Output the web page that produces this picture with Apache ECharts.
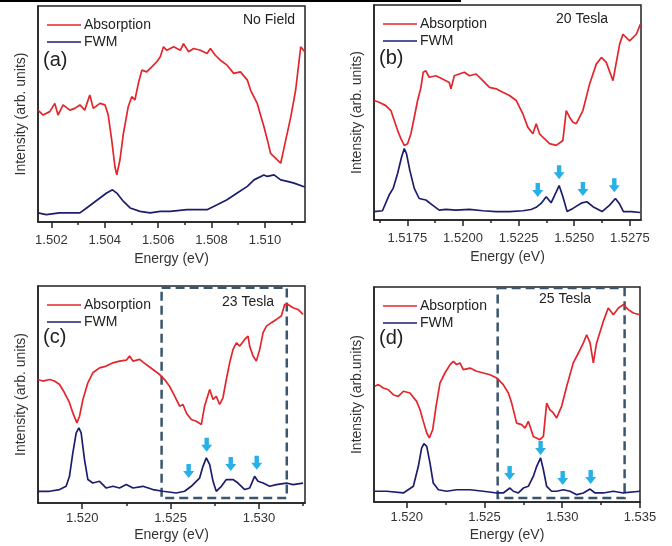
<!DOCTYPE html>
<html>
<head>
<meta charset="utf-8">
<script src="https://cdn.jsdelivr.net/npm/echarts@6/dist/echarts.min.js"></script>
<style>
  html, body { margin: 0; padding: 0; background: #fff; }
  #main { width: 672px; height: 546px; }
</style>
</head>
<body>
<div id="main"></div>
<script>
// ---- data: [energy (eV), intensity (arb. units)] ----
// (a) no field
var absA = [[1.50150,51.8],[1.50169,49.5],[1.50194,51.1],[1.50213,54.9],[1.50225,49.5],[1.50244,54.2],[1.50269,51.8],[1.50288,52.6],[1.50307,54.2],[1.50325,51.8],[1.50344,58.8],[1.50357,52.6],[1.50382,54.9],[1.50401,54.2],[1.50413,49.5],[1.50426,38.0],[1.50438,25.7],[1.50445,21.8],[1.50457,28.8],[1.50470,41.1],[1.50488,53.4],[1.50501,58.0],[1.50513,56.5],[1.50526,64.2],[1.50539,70.3],[1.50557,69.5],[1.50576,71.8],[1.50595,74.2],[1.50608,76.5],[1.50620,81.1],[1.50633,79.5],[1.50658,81.1],[1.50683,79.5],[1.50695,82.6],[1.50714,78.8],[1.50733,80.3],[1.50758,79.5],[1.50783,78.0],[1.50796,80.3],[1.50814,77.2],[1.50833,74.9],[1.50858,72.6],[1.50883,68.8],[1.50908,69.5],[1.50934,65.7],[1.50946,61.1],[1.50971,54.9],[1.50996,44.2],[1.51009,38.0],[1.51021,31.8],[1.51046,28.8],[1.51059,27.2],[1.51078,38.0],[1.51097,48.8],[1.51115,61.1],[1.51134,81.1],[1.51149,78.8]];
var fwmA = [[1.50150,4.2],[1.50181,3.4],[1.50231,4.2],[1.50307,4.2],[1.50332,6.5],[1.50357,8.8],[1.50382,11.1],[1.50407,13.4],[1.50429,14.9],[1.50445,13.4],[1.50470,9.5],[1.50495,6.5],[1.50532,4.9],[1.50570,4.2],[1.50608,4.9],[1.50645,4.9],[1.50708,5.7],[1.50783,5.7],[1.50821,8.0],[1.50858,10.3],[1.50896,13.4],[1.50934,16.5],[1.50959,19.5],[1.50996,21.8],[1.51009,21.1],[1.51034,21.8],[1.51059,19.5],[1.51084,18.8],[1.51109,18.0],[1.51149,16.2]];

// (b) 20 T
var absB = [[1.51601,55.6],[1.51623,54.8],[1.51653,53.2],[1.51676,50.9],[1.51691,46.3],[1.51706,41.7],[1.51721,37.8],[1.51736,34.7],[1.51751,35.5],[1.51766,40.1],[1.51781,47.8],[1.51796,55.6],[1.51811,61.7],[1.51821,68.7],[1.51833,69.4],[1.51848,66.4],[1.51878,67.1],[1.51908,65.6],[1.51938,64.0],[1.51946,61.0],[1.51961,67.1],[1.51983,67.9],[1.52006,68.7],[1.52029,67.1],[1.52059,67.9],[1.52089,64.8],[1.52119,61.7],[1.52149,61.0],[1.52179,59.4],[1.52209,57.9],[1.52239,55.6],[1.52269,49.4],[1.52291,43.2],[1.52314,40.1],[1.52329,44.8],[1.52344,40.1],[1.52366,37.8],[1.52389,35.5],[1.52419,34.7],[1.52449,37.0],[1.52464,50.9],[1.52479,47.8],[1.52494,45.5],[1.52509,44.8],[1.52539,50.9],[1.52569,63.3],[1.52599,72.5],[1.52622,75.6],[1.52644,73.3],[1.52674,64.8],[1.52704,81.8],[1.52719,86.4],[1.52749,83.3],[1.52779,86.4],[1.52797,91.0]];
var fwmB = [[1.51601,3.9],[1.51638,4.3],[1.51668,11.6],[1.51686,14.7],[1.51706,21.6],[1.51724,29.3],[1.51736,33.2],[1.51746,30.9],[1.51761,23.1],[1.51781,14.7],[1.51803,10.0],[1.51833,9.3],[1.51863,6.9],[1.51893,4.6],[1.51923,4.9],[1.51968,4.6],[1.52029,4.9],[1.52089,4.3],[1.52149,3.9],[1.52209,3.9],[1.52269,4.3],[1.52306,4.9],[1.52329,5.9],[1.52351,7.7],[1.52374,10.8],[1.52396,8.0],[1.52419,13.1],[1.52432,16.0],[1.52449,10.8],[1.52468,3.9],[1.52494,5.4],[1.52535,8.0],[1.52557,8.5],[1.52584,6.2],[1.52625,3.9],[1.52659,6.9],[1.52685,10.0],[1.52704,7.4],[1.52721,3.9],[1.52757,3.9],[1.52797,3.5]];
var arrowsB = [[1.52336,13.9],[1.52432,22.2],[1.52539,14.4],[1.52680,16.2]];

// (c) 23 T
var absC = [[1.51749,56.9],[1.51777,56.2],[1.51815,56.9],[1.51843,56.2],[1.51872,54.6],[1.51900,50.8],[1.51928,46.2],[1.51947,41.5],[1.51970,36.9],[1.51985,40.0],[1.52004,47.7],[1.52032,55.4],[1.52060,60.0],[1.52098,62.3],[1.52136,63.1],[1.52174,64.6],[1.52211,65.4],[1.52249,65.8],[1.52268,67.7],[1.52287,65.4],[1.52325,66.2],[1.52362,63.8],[1.52400,61.5],[1.52438,59.2],[1.52466,56.9],[1.52494,53.8],[1.52523,49.2],[1.52551,44.6],[1.52570,45.4],[1.52589,41.5],[1.52617,38.5],[1.52645,37.7],[1.52674,36.2],[1.52692,44.6],[1.52721,52.3],[1.52740,47.7],[1.52758,49.2],[1.52777,45.4],[1.52796,48.5],[1.52815,56.9],[1.52834,64.6],[1.52853,70.8],[1.52872,73.8],[1.52891,72.3],[1.52919,75.4],[1.52938,76.9],[1.52947,72.3],[1.52966,67.7],[1.52985,65.4],[1.53004,70.8],[1.53023,78.5],[1.53042,81.5],[1.53070,83.1],[1.53098,84.6],[1.53126,86.2],[1.53145,91.5],[1.53164,91.5],[1.53192,90.0],[1.53221,89.2],[1.53249,86.9]];
var fwmC = [[1.51749,5.4],[1.51815,5.4],[1.51872,6.2],[1.51909,7.7],[1.51928,12.3],[1.51947,23.1],[1.51966,32.3],[1.51981,34.6],[1.51994,32.3],[1.52013,20.0],[1.52032,10.8],[1.52060,9.2],[1.52098,10.0],[1.52136,6.9],[1.52174,7.7],[1.52211,6.9],[1.52249,8.5],[1.52287,6.9],[1.52343,7.7],[1.52400,6.2],[1.52457,5.4],[1.52532,4.6],[1.52579,5.4],[1.52617,7.7],[1.52645,10.0],[1.52664,11.5],[1.52683,16.9],[1.52702,20.8],[1.52721,17.7],[1.52740,10.0],[1.52758,5.4],[1.52787,7.7],[1.52815,10.8],[1.52853,10.8],[1.52881,9.2],[1.52919,6.2],[1.52947,6.9],[1.52975,12.3],[1.52994,10.0],[1.53023,9.2],[1.53060,7.7],[1.53098,8.5],[1.53155,9.2],[1.53192,8.5],[1.53249,9.2]];
var arrowsC = [[1.52602,14.8],[1.52704,26.8],[1.52840,18.0],[1.52987,18.5]];
var boxC = [[1.52449,99.2],[1.53157,2.3]];

// (d) 25 T
var absD = [[1.51796,53.8],[1.51818,54.6],[1.51850,53.0],[1.51882,52.2],[1.51914,49.9],[1.51946,49.1],[1.51979,51.5],[1.52021,50.7],[1.52064,46.8],[1.52086,42.9],[1.52107,37.5],[1.52129,32.1],[1.52146,29.8],[1.52167,33.6],[1.52189,44.5],[1.52214,55.3],[1.52246,60.0],[1.52279,63.9],[1.52300,65.4],[1.52321,63.9],[1.52343,64.7],[1.52364,61.6],[1.52407,62.3],[1.52450,60.8],[1.52493,60.0],[1.52536,59.2],[1.52579,57.7],[1.52621,54.6],[1.52654,50.7],[1.52675,46.0],[1.52707,36.7],[1.52739,36.0],[1.52761,34.4],[1.52782,37.5],[1.52793,35.2],[1.52814,30.5],[1.52857,29.0],[1.52879,30.5],[1.52900,46.0],[1.52921,42.9],[1.52943,41.4],[1.52964,39.1],[1.52996,44.5],[1.53029,53.8],[1.53071,64.7],[1.53104,69.3],[1.53136,74.0],[1.53157,77.8],[1.53179,74.0],[1.53200,64.7],[1.53221,74.0],[1.53264,84.0],[1.53296,90.2],[1.53329,87.1],[1.53361,90.2],[1.53393,91.8],[1.53425,89.5],[1.53457,87.9],[1.53500,87.1]];
var fwmD = [[1.51796,5.0],[1.51871,5.0],[1.51979,4.2],[1.52043,7.3],[1.52075,16.6],[1.52096,25.1],[1.52111,27.1],[1.52129,25.9],[1.52150,18.1],[1.52171,8.8],[1.52204,5.7],[1.52257,5.0],[1.52321,5.7],[1.52407,5.7],[1.52493,5.0],[1.52579,4.2],[1.52621,4.2],[1.52664,6.5],[1.52686,5.0],[1.52718,4.2],[1.52750,6.5],[1.52782,7.3],[1.52814,11.9],[1.52836,16.6],[1.52861,20.5],[1.52879,15.0],[1.52900,7.3],[1.52932,5.0],[1.52964,5.0],[1.53007,5.7],[1.53050,5.0],[1.53093,3.4],[1.53136,4.2],[1.53179,6.0],[1.53211,4.2],[1.53264,4.2],[1.53329,5.0],[1.53393,4.2],[1.53500,5.0]];
var arrowsD = [[1.52662,13.5],[1.52861,25.1],[1.53003,11.2],[1.53183,11.6]];
var boxD = [[1.52585,99.5],[1.53401,1.9]];

// axis ranges and ticks
var xMin = [1.5015, 1.5160, 1.5175, 1.5179];
var xMax = [1.5115, 1.5280, 1.5326, 1.5350];
var majorTicks = [
  [1.502, 1.504, 1.506, 1.508, 1.510],
  [1.5175, 1.5200, 1.5225, 1.5250, 1.5275],
  [1.520, 1.525, 1.530],
  [1.520, 1.525, 1.530, 1.535]
];
var minorTicks = [
  [1.503, 1.505, 1.507, 1.509, 1.511],
  [1.51625, 1.51875, 1.52125, 1.52375, 1.52625],
  [1.5225, 1.5275, 1.5325],
  [1.5225, 1.5275, 1.5325]
];
var decimals = [3, 4, 3, 3];
var yNames = ['Intensity (arb. units)', 'Intensity (arb. units)', 'Intensity (arb. units)', 'Intensity (arb.units)'];
var fieldLabels = ['No Field', '20 Tesla', '23 Tesla', '25 Tesla'];
var panelLabels = ['(a)', '(b)', '(c)', '(d)'];

var absData = [absA, absB, absC, absD];
var fwmData = [fwmA, fwmB, fwmC, fwmD];
var arrowData = [null, arrowsB, arrowsC, arrowsD];
var boxData = [null, null, boxC, boxD];

var FONT = 'Liberation Sans, Arial, sans-serif';
var RED = '#e3262b';
var NAVY = '#1d1d6e';
var AXIS = '#222';
var ARROW = 'path://M3,0 L7,0 L7,6 L10,6 L5,12 L0,6 L3,6 Z';

// grid layout (pixels)
var grids = [
  { left: 38, top: 6, width: 267, height: 216 },
  { left: 374, top: 5, width: 267, height: 215 },
  { left: 38, top: 286, width: 267, height: 217 },
  { left: 374, top: 287, width: 266, height: 215 }
];
var labelMargin = [12, 12, 9, 9];
var nameGap = [30, 30, 25, 26];

var myChart = echarts.init(document.getElementById('main'));

var xAxes = [], yAxes = [], series = [], legends = [], texts = [];

grids.forEach(function (g, i) {
  g.show = true;
  g.borderColor = AXIS;
  g.borderWidth = 1.5;
  g.backgroundColor = '#fff';

  xAxes.push({
    type: 'value', gridIndex: i, position: 'bottom',
    min: xMin[i], max: xMax[i],
    name: 'Energy (eV)', nameLocation: 'middle', nameGap: nameGap[i],
    nameTextStyle: { fontFamily: FONT, fontSize: 14, color: '#333' },
    axisLine: { lineStyle: { color: AXIS, width: 1.5 } },
    axisTick: { customValues: majorTicks[i], length: 6, lineStyle: { color: AXIS, width: 1.5 } },
    axisLabel: {
      customValues: majorTicks[i], margin: labelMargin[i],
      fontFamily: FONT, fontSize: 13, color: '#333',
      formatter: (function (d) { return function (v) { return v.toFixed(d); }; })(decimals[i])
    },
    splitLine: { show: false }
  });
  // minor ticks
  xAxes.push({
    type: 'value', gridIndex: i, position: 'bottom',
    min: xMin[i], max: xMax[i],
    axisLine: { show: false },
    axisTick: { customValues: minorTicks[i], length: 3, lineStyle: { color: AXIS, width: 1.5 } },
    axisLabel: { show: false },
    splitLine: { show: false }
  });
  yAxes.push({
    type: 'value', gridIndex: i, min: 0, max: 100,
    name: yNames[i], nameLocation: 'middle', nameGap: 10,
    nameTextStyle: { fontFamily: FONT, fontSize: 14, color: '#333' },
    axisLine: { show: true, lineStyle: { color: AXIS, width: 1.5 } },
    axisTick: { show: false },
    axisLabel: { show: false },
    splitLine: { show: false }
  });

  var abs = {
    name: 'Absorption', type: 'line', xAxisIndex: 2 * i, yAxisIndex: i,
    data: absData[i], showSymbol: false, symbol: 'none',
    lineStyle: { color: RED, width: 1.7 }, itemStyle: { color: RED },
    z: 3
  };
  if (boxData[i]) {
    abs.markArea = {
      silent: true,
      itemStyle: { color: 'rgba(0,0,0,0)', borderColor: '#3a566e', borderWidth: 2.5, borderType: [9, 5] },
      data: [[{ coord: boxData[i][0] }, { coord: boxData[i][1] }]]
    };
  }
  series.push(abs);

  var fwm = {
    name: 'FWM', type: 'line', xAxisIndex: 2 * i, yAxisIndex: i,
    data: fwmData[i], showSymbol: false, symbol: 'none',
    lineStyle: { color: NAVY, width: 1.7 }, itemStyle: { color: NAVY },
    z: 3
  };
  if (arrowData[i]) {
    fwm.markPoint = {
      silent: true, symbol: ARROW, symbolSize: [11, 14],
      itemStyle: { color: '#29b0e6' },
      label: { show: false },
      data: arrowData[i].map(function (c) { return { coord: c }; })
    };
  }
  series.push(fwm);

  legends.push({
    left: g.left + 4, top: g.top + 7, orient: 'vertical',
    icon: 'rect', itemWidth: 34, itemHeight: 1.5, itemGap: 3,
    selectedMode: false,
    textStyle: { fontFamily: FONT, fontSize: 14, color: '#222', padding: [0, 0, 0, -2] },
    data: [{ name: 'Absorption', itemStyle: { color: RED } }, { name: 'FWM', itemStyle: { color: NAVY } }]
  });
});

// panel letters and field labels
var letterPos = [[43, 50], [379, 48], [43, 327], [379, 328]];
var fieldPos = [[243, 13], [556, 12], [222, 295], [539, 292]];
letterPos.forEach(function (p, i) {
  texts.push({ type: 'text', left: p[0], top: p[1], z: 10,
    style: { text: panelLabels[i], font: '20px ' + FONT, fill: '#222' } });
  texts.push({ type: 'text', left: fieldPos[i][0], top: fieldPos[i][1], z: 10,
    style: { text: fieldLabels[i], font: '14px ' + FONT, fill: '#222' } });
});
// page rule at top
texts.push({ type: 'rect', left: 0, top: 0, shape: { width: 461, height: 2 }, style: { fill: '#000' } });

var option = {
  animation: false,
  backgroundColor: '#fff',
  grid: grids,
  xAxis: xAxes,
  yAxis: yAxes,
  legend: legends,
  graphic: texts,
  series: series
};

myChart.setOption(option);
</script>
</body>
</html>
